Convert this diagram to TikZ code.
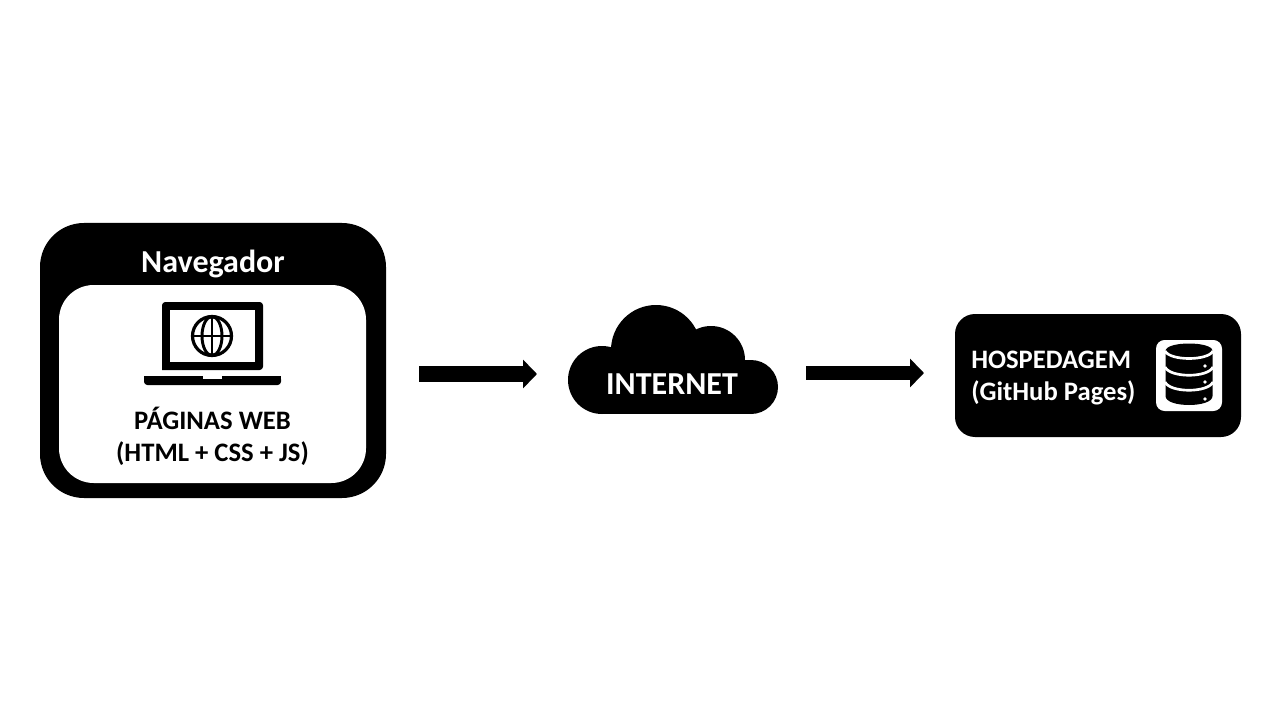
\documentclass[tikz,border=0pt]{standalone}
\usepackage{fontspec}
\setmainfont{Carlito}
\usetikzlibrary{arrows.meta}
\tikzset{
  blackbox/.style={fill=black,draw=none,inner sep=0pt,outer sep=0pt},
  whitebox/.style={fill=white,draw=none,inner sep=0pt,outer sep=0pt},
  ghost/.style={draw=none,fill=none,inner sep=0pt,outer sep=0pt},
  darktext/.style={text=black,font=\bfseries\fontsize{20}{24}\selectfont,inner sep=0pt},
  lighttext/.style={text=white,font=\bfseries\fontsize{20}{24}\selectfont,inner sep=0pt},
  biglight/.style={text=white,font=\bfseries\fontsize{24}{28}\selectfont,inner sep=0pt},
  blockarrow/.style={draw=black,-{Triangle[length=10.5pt,width=21pt]}},
}
\begin{document}
\begin{tikzpicture}[x=0.75pt,y=-0.75pt]
\useasboundingbox (0,0) rectangle (1280,720);
\fill[white] (0,0) rectangle (1280,720);

% browser
\node[blackbox,rounded corners=33pt,minimum width=259.5pt,minimum height=206.25pt] (browser) at (213,360.5) {};
\node[whitebox,rounded corners=26pt,minimum width=230.25pt,minimum height=148.5pt] (page) at (212.5,384) {};
\node[biglight] (navlabel) at (213,263.5) {Navegador};
\node[darktext] (pagelabel) at (212.5,418.5) {PÁGINAS WEB};
\node[darktext] (techlabel) at (212.5,453.5) {(HTML + CSS + JS)};

% laptop icon
\fill[black,rounded corners=2.5pt] (162,370) -- (162,302) -- (263,302) -- (263,370) [sharp corners] -- cycle;
\fill[white] (170,310) rectangle (255,362);
\fill[black,rounded corners=2.5pt] (144,376) -- (144,385) -- (281,385) -- (281,376) [sharp corners] -- cycle;
\fill[black] (144,376) rectangle (281,380);
\fill[white] (203,376) rectangle (222,378.5);
\draw[black,line width=2.4pt] (212,336) circle[radius=19.5];
\draw[black,line width=2.2pt] (212,336) ellipse[x radius=10,y radius=19.5];
\draw[black,line width=2.2pt] (192.5,336) -- (231.5,336) (212,316.5) -- (212,355.5);

% cloud
\node[ghost,minimum width=157.5pt,minimum height=81.75pt] (cloud) at (673,359.5) {};
\fill[black] (602,380) circle[radius=34];
\fill[black] (656,350) circle[radius=45];
\fill[black] (711,360) circle[radius=34];
\fill[black] (751,387) circle[radius=27];
\fill[black] (602,360) rectangle (751,414);
\node[biglight] (netlabel) at (672,384) {INTERNET};

% hosting
\node[blackbox,rounded corners=15pt,minimum width=214.5pt,minimum height=92.25pt] (host) at (1098,375.5) {};
\node[lighttext,anchor=west] (hostlabel) at (971,360) {HOSPEDAGEM};
\node[lighttext,anchor=west] (ghlabel) at (971,393) {(GitHub Pages)};

% database icon
\node[whitebox,rounded corners=6.5pt,minimum width=49.5pt,minimum height=53.25pt] (dbbox) at (1189,375.5) {};
\fill[black] (1165.5,351) .. controls (1165.5,341) and (1212.5,341) .. (1212.5,351)
  -- (1212.5,396) .. controls (1212.5,408) and (1165.5,408) .. (1165.5,396) -- cycle;
\draw[white,line width=2pt] (1165,351) .. controls (1170,361) and (1208,361) .. (1213,351);
\draw[white,line width=2pt] (1165,367) .. controls (1170,378) and (1208,378) .. (1213,367);
\draw[white,line width=2pt] (1165,382) .. controls (1170,393) and (1208,393) .. (1213,382);
\fill[white] (1205,366) circle[radius=1.8] (1205,382) circle[radius=1.8] (1205,399) circle[radius=1.8];

% connectors
\coordinate (rowa) at (0,374);
\coordinate (rowb) at (0,373);
\draw[blockarrow,line width=12pt,shorten <=24.75pt,shorten >=23.25pt] (browser.east |- rowa) -- (cloud.west |- rowa);
\draw[blockarrow,line width=11pt,shorten <=21pt,shorten >=23.25pt] (cloud.east |- rowb) -- (host.west |- rowb);
\end{tikzpicture}
\end{document}
